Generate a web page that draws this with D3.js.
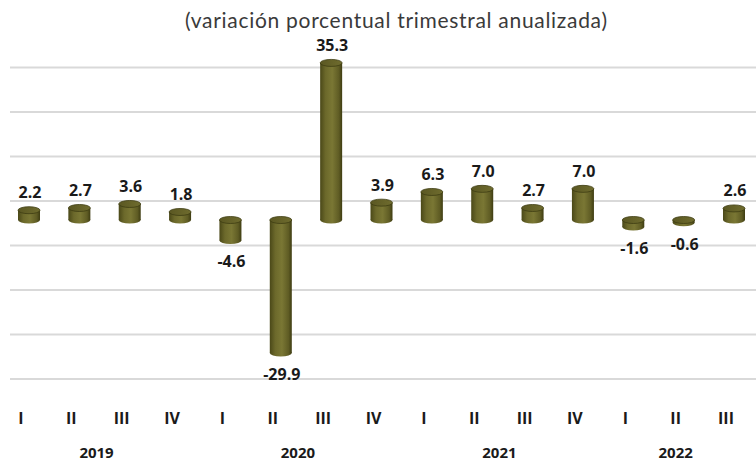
<!DOCTYPE html>
<html>
<head>
<meta charset="UTF-8">
<style>
  body { margin: 0; background: #fff; }
  text { font-family: "Open Sans", sans-serif; }
  .val { font-weight: 700; font-size: 16px; fill: #1a1a1a; text-anchor: middle; }
  .qtr { font-weight: 700; font-size: 16px; fill: #1a1a1a; text-anchor: middle; }
  .yr { font-weight: 700; font-size: 15px; fill: #1a1a1a; text-anchor: middle; }
  .title { font-family: Lato, sans-serif; font-weight: 400; font-size: 21px; fill: #3a3a3a; text-anchor: middle; }
</style>
</head>
<body>
<svg width="756" height="462"></svg>
<script src="https://cdn.jsdelivr.net/npm/d3@7"></script>
<script>
// data
var quarters = ["I","II","III","IV","I","II","III","IV","I","II","III","IV","I","II","III"];
var years = ["2019","2020","2021","2022"];
var yearSpans = [[0,3],[4,7],[8,11],[12,14]];
var values = [2.2, 2.7, 3.6, 1.8, -4.6, -29.9, 35.3, 3.9, 6.3, 7.0, 2.7, 7.0, -1.6, -0.6, 2.6];
var gridTicks = [-40, -30, -20, -10, 0, 10, 20, 30];

var svg = d3.select("svg");
var depthY = 19, depthX = 8;  // 3d offset between back wall and bars

var x = d3.scalePoint().domain(d3.range(values.length)).range([29, 734]);
var y = d3.scaleLinear().domain([-40, 30]).range([379, 67.5]);

svg.append("text").attr("class", "title")
  .attr("x", 396).attr("y", 28)
  .attr("textLength", 422).attr("lengthAdjust", "spacing")
  .text("(variación porcentual trimestral anualizada)");

// gridlines on back wall
svg.append("g").selectAll("line").data(gridTicks).enter().append("line")
  .attr("x1", 10).attr("x2", 756)
  .attr("y1", d => y(d)).attr("y2", d => y(d))
  .attr("stroke", "#d9d9d9").attr("stroke-width", 2);

var defs = svg.append("defs");
var grad = defs.append("linearGradient").attr("id", "cyl").attr("x1", 0).attr("x2", 1).attr("y1", 0).attr("y2", 0);
grad.append("stop").attr("offset", "0%").attr("stop-color", "#4a4818");
grad.append("stop").attr("offset", "25%").attr("stop-color", "#6c692b");
grad.append("stop").attr("offset", "55%").attr("stop-color", "#7a7734");
grad.append("stop").attr("offset", "85%").attr("stop-color", "#5f5c24");
grad.append("stop").attr("offset", "100%").attr("stop-color", "#3e3c12");
var gradTop = defs.append("linearGradient").attr("id", "cylTop").attr("x1", 0).attr("x2", 1).attr("y1", 0).attr("y2", 0);
gradTop.append("stop").attr("offset", "0%").attr("stop-color", "#5a5722");
gradTop.append("stop").attr("offset", "100%").attr("stop-color", "#6f6c2e");

var bw = 22, ry = 3.5;
var bars = svg.append("g").selectAll("g").data(values).enter().append("g");
function by(v) { return y(v) + depthY; }

bars.append("rect")
  .attr("x", (d, i) => x(i) - bw / 2)
  .attr("y", d => Math.min(by(d), by(0)))
  .attr("width", bw)
  .attr("height", d => Math.abs(by(d) - by(0)))
  .attr("fill", "url(#cyl)");
// bottom ellipse
bars.append("ellipse")
  .attr("cx", (d, i) => x(i))
  .attr("cy", d => Math.max(by(d), by(0)))
  .attr("rx", bw / 2).attr("ry", ry)
  .attr("fill", "url(#cyl)");
// top ellipse
bars.append("ellipse")
  .attr("cx", (d, i) => x(i))
  .attr("cy", d => Math.min(by(d), by(0)))
  .attr("rx", bw / 2).attr("ry", ry)
  .attr("fill", "url(#cylTop)")
  .attr("stroke", "#3e3c12").attr("stroke-width", 0.8);

svg.append("g").selectAll("text").data(values).enter().append("text")
  .attr("class", "val")
  .attr("x", (d, i) => x(i) + 1)
  .attr("y", d => d >= 0 ? by(d) - 12 : by(d) + 27)
  .text(d => d.toFixed(1));

svg.append("g").selectAll("text").data(quarters).enter().append("text")
  .attr("class", "qtr")
  .attr("x", (d, i) => x(i) - depthX)
  .attr("y", 424)
  .text(d => d);

svg.append("g").selectAll("text").data(years).enter().append("text")
  .attr("class", "yr")
  .attr("x", (d, i) => (x(yearSpans[i][0]) + x(yearSpans[i][1])) / 2 - depthX)
  .attr("y", 458)
  .text(d => d);
</script>
</body>
</html>
